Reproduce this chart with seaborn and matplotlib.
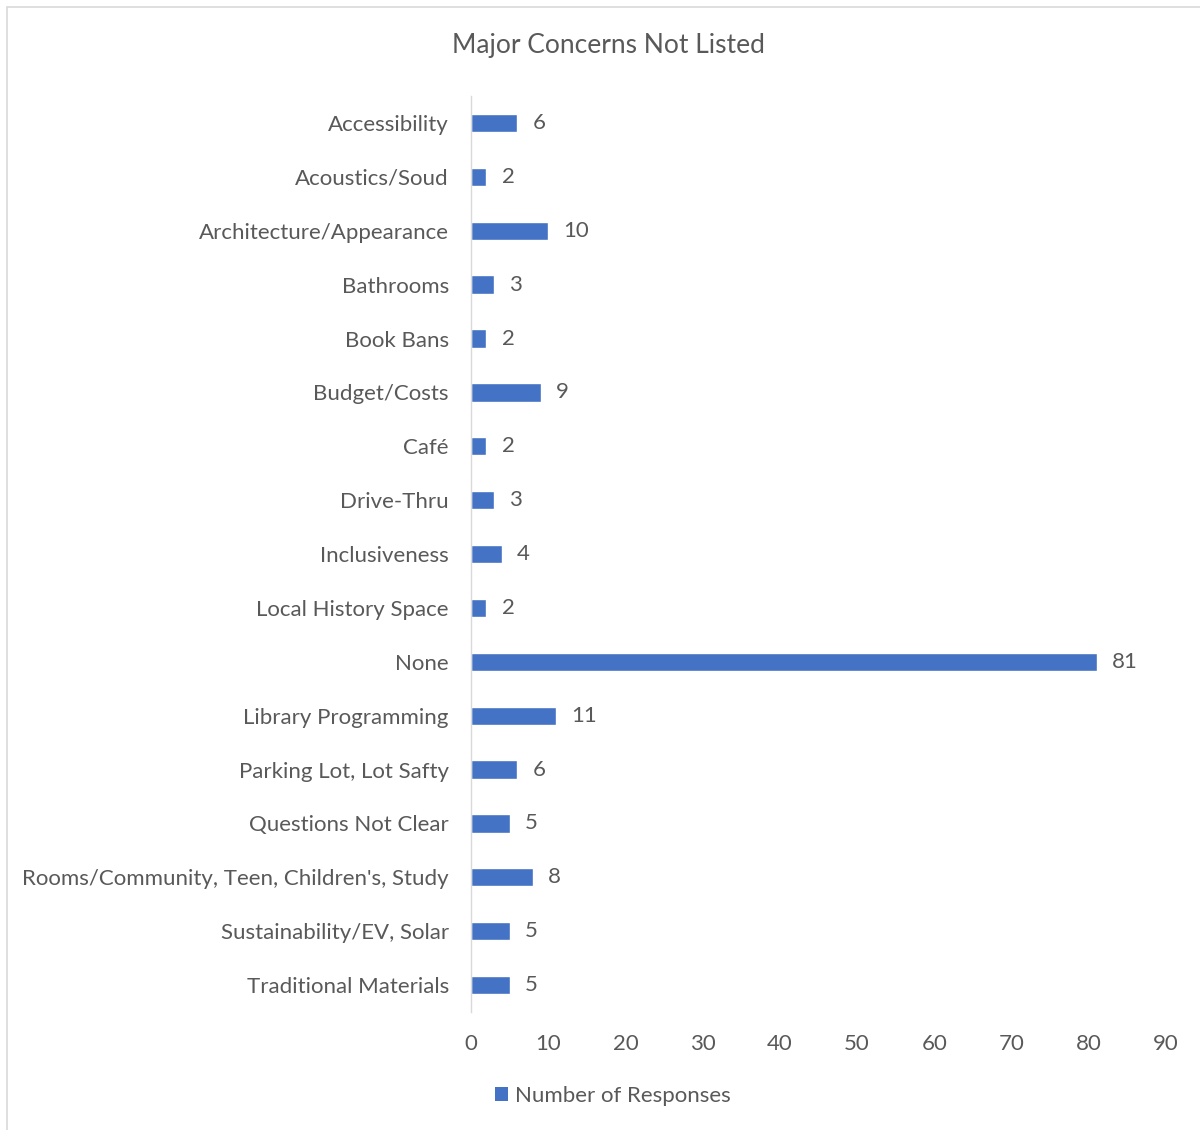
import matplotlib
matplotlib.use("Agg")
import matplotlib.pyplot as plt
import seaborn as sns
import pandas as pd
from matplotlib.patches import Rectangle, Patch

# chart data
categories = ['Accessibility', 'Acoustics/Soud', 'Architecture/Appearance', 'Bathrooms',
              'Book Bans', 'Budget/Costs', 'Café', 'Drive-Thru', 'Inclusiveness',
              'Local History Space', 'None', 'Library Programming', 'Parking Lot, Lot Safty',
              'Questions Not Clear', "Rooms/Community, Teen, Children's, Study",
              'Sustainability/EV, Solar', 'Traditional Materials']
responses = [6, 2, 10, 3, 2, 9, 2, 3, 4, 2, 81, 11, 6, 5, 8, 5, 5]
x_ticks = [0, 10, 20, 30, 40, 50, 60, 70, 80, 90]

bar_color = '#4472C4'
text_color = '#595959'

df = pd.DataFrame({'category': categories, 'responses': responses})

sns.set_style('white')
plt.rcParams['font.family'] = ['Lato', 'DejaVu Sans']

fig = plt.figure(figsize=(12, 11.3), dpi=100)
ax = fig.add_axes([0.3925, 0.1044, 0.9717 - 0.3925, 0.915 - 0.1044])

sns.barplot(data=df, x='responses', y='category', color=bar_color, width=0.34,
            saturation=1, ax=ax)

ax.bar_label(ax.containers[0], padding=11, fontsize=16, color=text_color)

ax.set_xlim(0, 90)
ax.set_ylim(16.5, -0.5)
ax.set_xticks(x_ticks)
ax.set_xlabel('')
ax.set_ylabel('')
ax.tick_params(axis='both', length=0, labelsize=16, labelcolor=text_color)
ax.tick_params(axis='x', pad=16)
ax.tick_params(axis='y', pad=16)

for side in ['top', 'right', 'bottom']:
    ax.spines[side].set_visible(False)
ax.spines['left'].set_color('#D9D9D9')
ax.spines['left'].set_linewidth(1)

fig.text(0.507, 1 - 46 / 1130, 'Major Concerns Not Listed', ha='center', va='center',
         fontsize=19, color=text_color)

handle = Patch(facecolor=bar_color, edgecolor='none')
fig.legend([handle], ['Number of Responses'], loc='center', bbox_to_anchor=(613 / 1200, 1 - 1096 / 1130),
           frameon=False, fontsize=16, labelcolor=text_color, handlelength=0.6,
           handleheight=0.6, handletextpad=0.3)

# outer chart border
fig.patches.append(Rectangle((7 / 1200, -0.01), 1.02, 1 - 7 / 1130 + 0.01,
                             transform=fig.transFigure, fill=False,
                             edgecolor='#D9D9D9', linewidth=1.2))

fig.savefig('out.png', dpi=100)
